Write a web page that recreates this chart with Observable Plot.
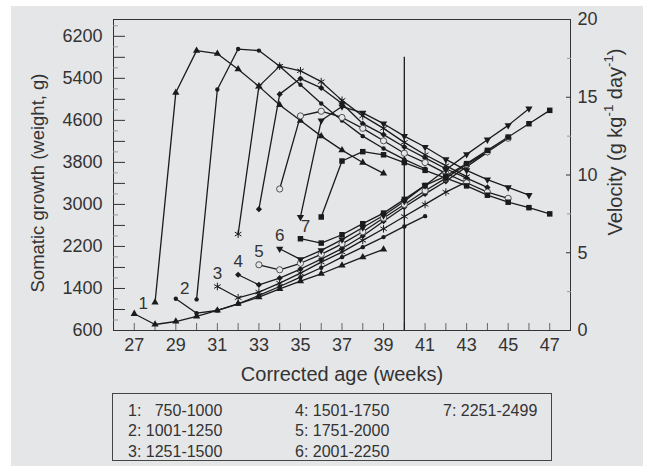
<!DOCTYPE html>
<html><head><meta charset="utf-8">
<script src="https://cdn.jsdelivr.net/npm/d3@7"></script>
<script src="https://cdn.jsdelivr.net/npm/@observablehq/plot@0.6"></script>
<style>
body{margin:0;background:#fff;font-family:"Liberation Sans",Arial,sans-serif;}
#panel{position:absolute;left:11px;top:6px;width:632px;height:460px;background:#e5e6e8;overflow:hidden;}
#chart{position:absolute;left:0;top:0;}
#ytitle2{position:absolute;left:604px;top:136px;transform:translate(-50%,-50%) rotate(-90deg);font-size:20px;color:#333;white-space:nowrap;}
#ytitle2 sup{font-size:0.66em;position:relative;top:-0.1em;vertical-align:super;line-height:0;}
#legend{position:absolute;left:101px;top:387px;width:438px;height:66px;border:1.5px solid #444;}
.lg{position:absolute;font-size:16px;color:#333;white-space:pre;line-height:1;}
</style></head><body>
<div id="panel"><div id="chart"></div><div id="ytitle2">Velocity (g kg<sup>-1</sup> day<sup>-1</sup>)</div><div id="legend"></div></div>
<script>
// ---- data ----
const groupLabels = ["1","2","3","4","5","6","7"];
const legendLabels = ["1:   750-1000","2: 1001-1250","3: 1251-1500","4: 1501-1750","5: 1751-2000","6: 2001-2250","7: 2251-2499"];
const weightStartWeek = [27, 29, 31, 32, 33, 34, 35];
// weight (g), one value per week from the start week
const weightG1 = [918, 714, 771, 867, 981, 1109, 1234, 1394, 1540, 1680, 1838, 1996, 2143];
const weightG2 = [1204, 930, 981, 1109, 1267, 1438, 1615, 1794, 1996, 2187, 2378, 2581, 2777];
const weightG3 = [1438, 1223, 1330, 1502, 1692, 1901, 2092, 2315, 2537, 2771, 3000, 3234, 3430];
const weightG4 = [1661, 1470, 1597, 1770, 1960, 2160, 2400, 2680, 2950, 3200, 3440, 3720, 3990];
const weightG5 = [1851, 1756, 1880, 2050, 2250, 2480, 2740, 3000, 3260, 3500, 3760, 4000, 4260];
const weightG6 = [2156, 1953, 2124, 2330, 2560, 2790, 3060, 3360, 3660, 3953, 4232, 4505, 4823];
const weightG7 = [2347, 2264, 2423, 2633, 2835, 3096, 3362, 3540, 3776, 4029, 4282, 4536, 4791];
// velocity (g/kg/day), one value per week from start week + 1
const velocityG1 = [1.8, 15.3, 18.0, 17.8, 16.8, 15.7, 14.5, 13.5, 12.5, 11.6, 10.8, 10.1];
const velocityG2 = [2.0, 15.5, 18.1, 18.0, 17.0, 15.8, 14.6, 13.5, 12.5, 11.7, 11.0, 10.4];
const velocityG3 = [6.2, 15.7, 17.0, 16.7, 16.0, 14.8, 13.8, 13.0, 12.1, 11.3, 10.6, 9.9];
const velocityG4 = [7.8, 15.2, 16.2, 15.6, 14.6, 13.3, 12.6, 11.8, 11.1, 10.4, 9.8, 9.2];
const velocityG5 = [9.1, 13.8, 14.1, 13.7, 13.0, 12.2, 11.4, 10.8, 10.1, 9.5, 8.9, 8.5];
const velocityG6 = [7.3, 13.5, 14.4, 14.0, 13.3, 12.5, 11.8, 11.0, 10.3, 9.7, 9.2, 8.7];
const velocityG7 = [7.3, 10.9, 11.5, 11.3, 10.8, 10.3, 9.8, 9.3, 8.7, 8.25, 7.9, 7.5];
const xTickWeeks = d3.range(27, 48);
const xLabelWeeks = [27, 29, 31, 33, 35, 37, 39, 41, 43, 45, 47];
const weightTicks = [600, 1400, 2200, 3000, 3800, 4600, 5400, 6200];
const velocityTicks = [0, 5, 10, 15, 20];
const weightDomain = [600, 6520];
const velocityDomain = [0, 20];
const xDomain = [26, 48];
const refWeek = 40;
const refTopWeight = 5800;

// ---- build ----
const ink = "#1b1b1b";
const bg = "#e5e6e8";
const vScale = (weightDomain[1] - weightDomain[0]) / (velocityDomain[1] - velocityDomain[0]);
const toW = v => weightDomain[0] + v * vScale;

const weights = [weightG1, weightG2, weightG3, weightG4, weightG5, weightG6, weightG7];
const velocities = [velocityG1, velocityG2, velocityG3, velocityG4, velocityG5, velocityG6, velocityG7];
const weightRows = weights.flatMap((w, g) => w.map((y, j) => ({g, week: weightStartWeek[g] + j, y})));
const velocityRows = velocities.flatMap((vs, g) => vs.map((v, j) => ({g, week: weightStartWeek[g] + 1 + j, y: toW(v)})));
const labelRows = weights.map((w, g) => ({g, week: weightStartWeek[g], y: w[0], text: groupLabels[g]}));

const sqrt3 = Math.sqrt(3);
const triangleDown = {draw(context, size) {
  const y = -Math.sqrt(size / (sqrt3 * 3));
  context.moveTo(0, -y * 2);
  context.lineTo(-sqrt3 * y, y);
  context.lineTo(sqrt3 * y, y);
  context.closePath();
}};
const symbolStyles = [
  {symbol: "triangle", fill: ink, stroke: "none", r: 2.7},
  {symbol: "circle", fill: ink, stroke: "none", r: 2.2},
  {symbol: "asterisk", fill: "none", stroke: ink, r: 3.6, strokeWidth: 1},
  {symbol: "diamond2", fill: ink, stroke: "none", r: 2.8},
  {symbol: "circle", fill: bg, stroke: "#444", r: 3.1, strokeWidth: 0.9},
  {symbol: triangleDown, fill: ink, stroke: "none", r: 2.7},
  {symbol: "square", fill: ink, stroke: "none", r: 3.1}
];

const dotMarks = symbolStyles.flatMap((s, g) => [
  Plot.dot(weightRows.filter(d => d.g === g), {x: "week", y: "y", ...s}),
  Plot.dot(velocityRows.filter(d => d.g === g), {x: "week", y: "y", ...s})
]);

const minorW = d3.range(800, 6500, 400);
const minorV = [2.5, 7.5, 12.5, 17.5];
const plain = d => String(d);

const chart = Plot.plot({
  width: 632, height: 384,
  marginLeft: 102, marginRight: 73, marginTop: 13, marginBottom: 60,
  x: {domain: xDomain},
  y: {domain: weightDomain},
  style: {background: "transparent", fontFamily: "'Liberation Sans', Arial, sans-serif", color: "#333"},
  marks: [
    Plot.frame({stroke: "#333", strokeWidth: 1}),
    // x ticks (inward) and labels
    Plot.axisX({ticks: xTickWeeks, tickSize: 7, dy: -7, tickFormat: () => "", stroke: "#666", label: null}),
    Plot.axisX({ticks: xLabelWeeks, tickSize: 0, tickPadding: 8, fontSize: 18, fill: "#333", label: null, tickFormat: plain}),
    // left axis
    Plot.axisY({ticks: d3.range(600, 6201, 400), tickSize: 12, dx: 12, tickFormat: () => "", stroke: "#333", label: null}),
    Plot.axisY({ticks: minorW, tickSize: 5, dx: 5, tickFormat: () => "", stroke: "#999", label: null}),
    Plot.axisY({ticks: weightTicks, tickSize: 0, tickPadding: 11, fontSize: 18, fill: "#333", label: null, tickFormat: plain}),
    // right axis (velocity)
    Plot.axisY({anchor: "right", ticks: velocityTicks.map(toW), tickSize: 5, dx: -5, tickFormat: () => "", stroke: "#333", label: null}),
    Plot.axisY({anchor: "right", ticks: minorV.map(toW), tickSize: 4, dx: -4, tickFormat: () => "", stroke: "#999", label: null}),
    Plot.axisY({anchor: "right", ticks: velocityTicks.map(toW), tickSize: 0, tickPadding: 7, fontSize: 18, fill: "#333", label: null,
      tickFormat: d => String(Math.round((d - weightDomain[0]) / vScale))}),
    // reference line
    Plot.ruleX([refWeek], {y1: weightDomain[0], y2: refTopWeight, stroke: ink, strokeWidth: 1.3}),
    // series lines
    Plot.line(weightRows, {x: "week", y: "y", z: "g", stroke: ink, strokeWidth: 1.3}),
    Plot.line(velocityRows, {x: "week", y: "y", z: "g", stroke: ink, strokeWidth: 1.3}),
    ...dotMarks,
    // group labels
    Plot.text(labelRows.filter(d => d.g < 2), {x: "week", y: "y", text: "text", dx: 9, dy: -10, fontSize: 17, fill: "#333"}),
    Plot.text(labelRows.filter(d => d.g >= 2 && d.g < 6), {x: "week", y: "y", text: "text", dx: 0, dy: -13, fontSize: 17, fill: "#333"}),
    Plot.text(labelRows.filter(d => d.g === 6), {x: "week", y: "y", text: "text", dx: 5, dy: -12, fontSize: 17, fill: "#333"}),
    // axis titles
    Plot.text(["Corrected age (weeks)"], {frameAnchor: "bottom", dy: 50, fontSize: 20, fill: "#333"}),
    Plot.text(["Somatic growth (weight, g)"], {frameAnchor: "left", textAnchor: "middle", rotate: -90, dx: -75, dy: 8, fontSize: 18.5, fill: "#333"})
  ]
});
document.getElementById("chart").appendChild(chart);

// legend
const colX = [15, 182, 330], rowY = [9, 29, 50];
const legend = document.getElementById("legend");
legendLabels.forEach((t, i) => {
  const s = document.createElement("span");
  s.className = "lg";
  s.textContent = t;
  s.style.left = colX[Math.floor(i / 3)] + "px";
  s.style.top = rowY[i % 3] + "px";
  legend.appendChild(s);
});
</script>
</body></html>
